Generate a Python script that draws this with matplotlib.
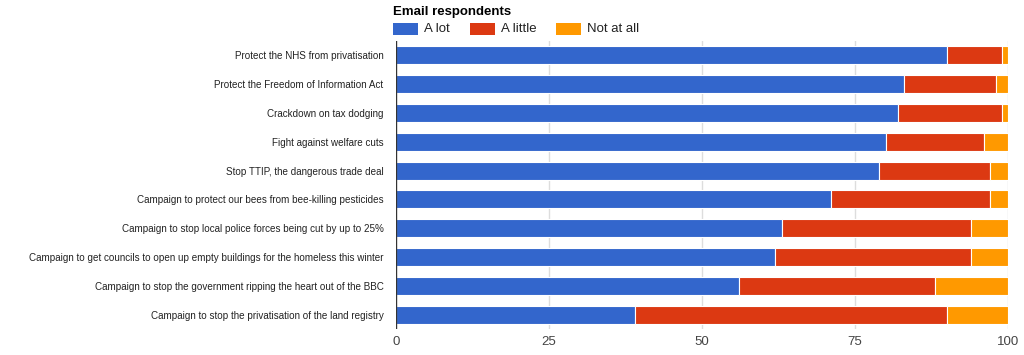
import matplotlib
matplotlib.use('Agg')
import matplotlib.pyplot as plt
import matplotlib.patches as mpatches
import numpy as np

plt.rcParams['font.family'] = ['Arial', 'Liberation Sans', 'DejaVu Sans']

campaigns = [
    'Protect the NHS from privatisation',
    'Protect the Freedom of Information Act',
    'Crackdown on tax dodging',
    'Fight against welfare cuts',
    'Stop TTIP, the dangerous trade deal',
    'Campaign to protect our bees from bee-killing pesticides',
    'Campaign to stop local police forces being cut by up to 25%',
    'Campaign to get councils to open up empty buildings for the homeless this winter',
    'Campaign to stop the government ripping the heart out of the BBC',
    'Campaign to stop the privatisation of the land registry',
]
a_lot = [90, 83, 82, 80, 79, 71, 63, 62, 56, 39]
a_little = [9, 15, 17, 16, 18, 26, 31, 32, 32, 51]
not_at_all = [1, 2, 1, 4, 3, 3, 6, 6, 12, 10]

series = [('A lot', a_lot, '#3366cc'),
          ('A little', a_little, '#dc3912'),
          ('Not at all', not_at_all, '#ff9900')]

W, H = 1024, 355
fig = plt.figure(figsize=(W / 100, H / 100), dpi=100)
ax = fig.add_axes([396 / W, 1 - 329 / H, 612 / W, 288 / H])

y = np.arange(len(campaigns))
left = np.zeros(len(campaigns))
for name, vals, color in series:
    ax.barh(y, vals, left=left, height=0.63, color=color,
            edgecolor='white', linewidth=0.8, zorder=3)
    left += np.array(vals)

ax.set_xlim(0, 100)
ax.set_ylim(len(campaigns) - 0.5, -0.5)
ax.set_xticks([0, 25, 50, 75, 100])
ax.tick_params(axis='x', length=0, labelsize=9.5, labelcolor='#444444', pad=5)
ax.set_yticks(y)
ax.set_yticklabels(campaigns, fontsize=7.1, color='#222222')
ax.tick_params(axis='y', length=0, pad=9)
for s in ax.spines.values():
    s.set_visible(False)
for xv in [25, 50, 75, 100]:
    ax.axvline(xv, color='#dddddd', linewidth=1, zorder=1)
ax.axvline(0, color='#333333', linewidth=1, zorder=4)

# legend in Google Charts style
fig.text(393 / W, 1 - 12 / H, 'Email respondents', fontsize=9.5,
         fontweight='bold', color='#000000', va='center', ha='left')
lx = [393, 470, 556]
for (name, vals, color), x0 in zip(series, lx):
    fig.patches.append(mpatches.Rectangle((x0 / W, 1 - 35 / H), 25 / W, 12 / H,
                                          transform=fig.transFigure,
                                          facecolor=color, edgecolor='none'))
    fig.text((x0 + 31) / W, 1 - 29 / H, name, fontsize=9.5, color='#222222',
             va='center', ha='left')

fig.savefig('out.png', dpi=100)
